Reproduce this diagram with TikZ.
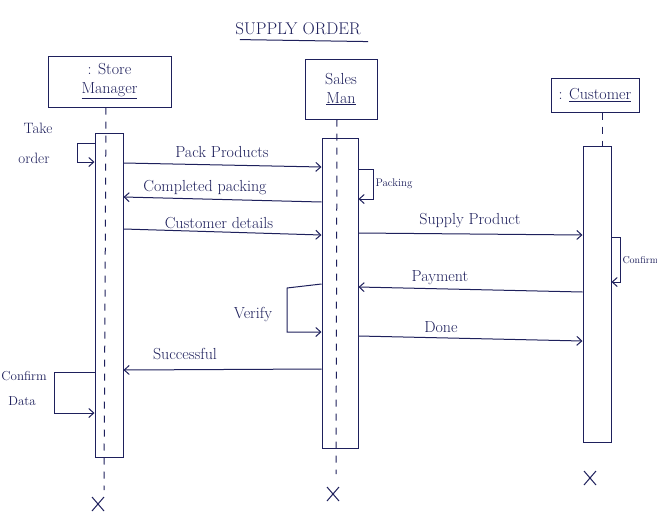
\documentclass[tikz,border=0pt]{standalone}
\usetikzlibrary{arrows.meta,shapes.misc}
\definecolor{ink}{RGB}{30,32,92}
\begin{document}
\begin{tikzpicture}[x=1pt,y=-1pt,line width=1pt,color=ink,
  hdbox/.style={draw,rectangle,inner sep=1pt,align=center,font=\fontsize{16}{19}\selectfont},
  actbox/.style={draw,rectangle,inner sep=0pt},
  life/.style={dash pattern=on 7pt off 7pt},
  msg/.style={-{Straight Barb[length=5pt,width=9pt]}},
  lbl/.style={inner sep=1pt,font=\fontsize{16}{18}\selectfont},
  smalllbl/.style={inner sep=1pt,font=\fontsize{11}{12}\selectfont},
  endx/.style={draw,cross out,minimum width=11pt,minimum height=13pt,inner sep=0pt,line width=1pt}]
\useasboundingbox[fill=white] (0,0) rectangle (657,531);

% title
\node[font=\fontsize{17}{19}\selectfont,inner sep=1pt] (title) at (298,29) {SUPPLY ORDER};
\draw ([xshift=6pt,yshift=-3pt]title.south west) -- ([xshift=6pt,yshift=-5pt]title.south east);

% heads
\node[hdbox,minimum width=123pt,minimum height=51pt] (smBox) at (109.5,81.5) {: Store\\\underline{Manager}};
\node[hdbox,minimum width=72pt,minimum height=60pt] (snBox) at (341,89) {Sales\\\underline{Man}};
\node[hdbox,minimum width=88pt,minimum height=34pt] (cuBox) at (595,95) {: \underline{Customer}};

% activations
\node[actbox,minimum width=28pt,minimum height=324pt] (smA) at (109,295) {};
\node[actbox,minimum width=36pt,minimum height=310pt] (snA) at (340,293) {};
\node[actbox,minimum width=28pt,minimum height=296pt] (cuA) at (597,294) {};

% ends
\node[endx] (smX) at (98,504) {};
\node[endx] (snX) at (333,494) {};
\node[endx] (cuX) at (590,478) {};
\coordinate (smEnd) at (104,490);
\coordinate (snEnd) at (336,474);

% lifelines
\draw[life] (smBox.south -| 106,0) -- (smEnd);
\draw[life] (snBox.south -| 337,0) -- (snEnd);
\draw[life] (cuBox.south -| 602,0) -- (cuA.north -| 602,0);

% messages
\draw[msg] (smA.east |- 0,163) -- (snA.west |- 0,167);
\node[lbl] (l1) at (222,152) {Pack Products};
\draw[msg] (snA.west |- 0,202) -- (smA.east |- 0,197);
\node[lbl] (l2) at (205,188) {Completed packing};
\draw[msg] (smA.east |- 0,229) -- (snA.west |- 0,235);
\node[lbl] (l3) at (219,223) {Customer details};
\draw[msg] (snA.east |- 0,233) -- (cuA.west |- 0,235);
\node[lbl] (l4) at (470,221) {Supply Product};
\draw[msg] (cuA.west |- 0,292) -- (snA.east |- 0,287);
\node[lbl] (l5) at (440,278) {Payment};
\draw[msg] (snA.east |- 0,336) -- (cuA.west |- 0,341);
\node[lbl] (l6) at (441,327) {Done};
\draw[msg] (snA.west |- 0,369) -- (smA.east |- 0,370);
\node[lbl] (l7) at (185,354) {Successful};

% self loops
\draw[msg] (smA.west |- 0,143) -- (77,143) -- (77,162) -- (smA.west |- 0,162);
\node[lbl,font=\fontsize{15}{16}\selectfont] (take) at (38,128) {Take};
\node[lbl,font=\fontsize{15}{16}\selectfont] (order) at (34,158) {order};

\draw[msg] (snA.east |- 0,169) -- (373,169) -- (373,199) -- (snA.east |- 0,199);
\node[smalllbl,anchor=west] (pk) at (374,184) {Packing};

\draw[msg] (snA.west |- 0,284) -- (287,288) -- (287,332) -- (snA.west |- 0,332);
\node[lbl] (vf) at (253,315) {Verify};

\draw[msg] (cuA.east |- 0,237) -- (620,237) -- (620,282) -- (cuA.east |- 0,282);
\node[smalllbl,anchor=west,font=\fontsize{10}{11}\selectfont] (cf) at (621,260) {Confirm};

\draw[msg] (smA.west |- 0,372) -- (54,372) -- (54,413) -- (smA.west |- 0,413);
\node[lbl,anchor=west,font=\fontsize{13}{14}\selectfont] (cd1) at (0,376) {Confirm};
\node[lbl,font=\fontsize{13}{14}\selectfont] (cd2) at (22,401) {Data};
\end{tikzpicture}
\end{document}
